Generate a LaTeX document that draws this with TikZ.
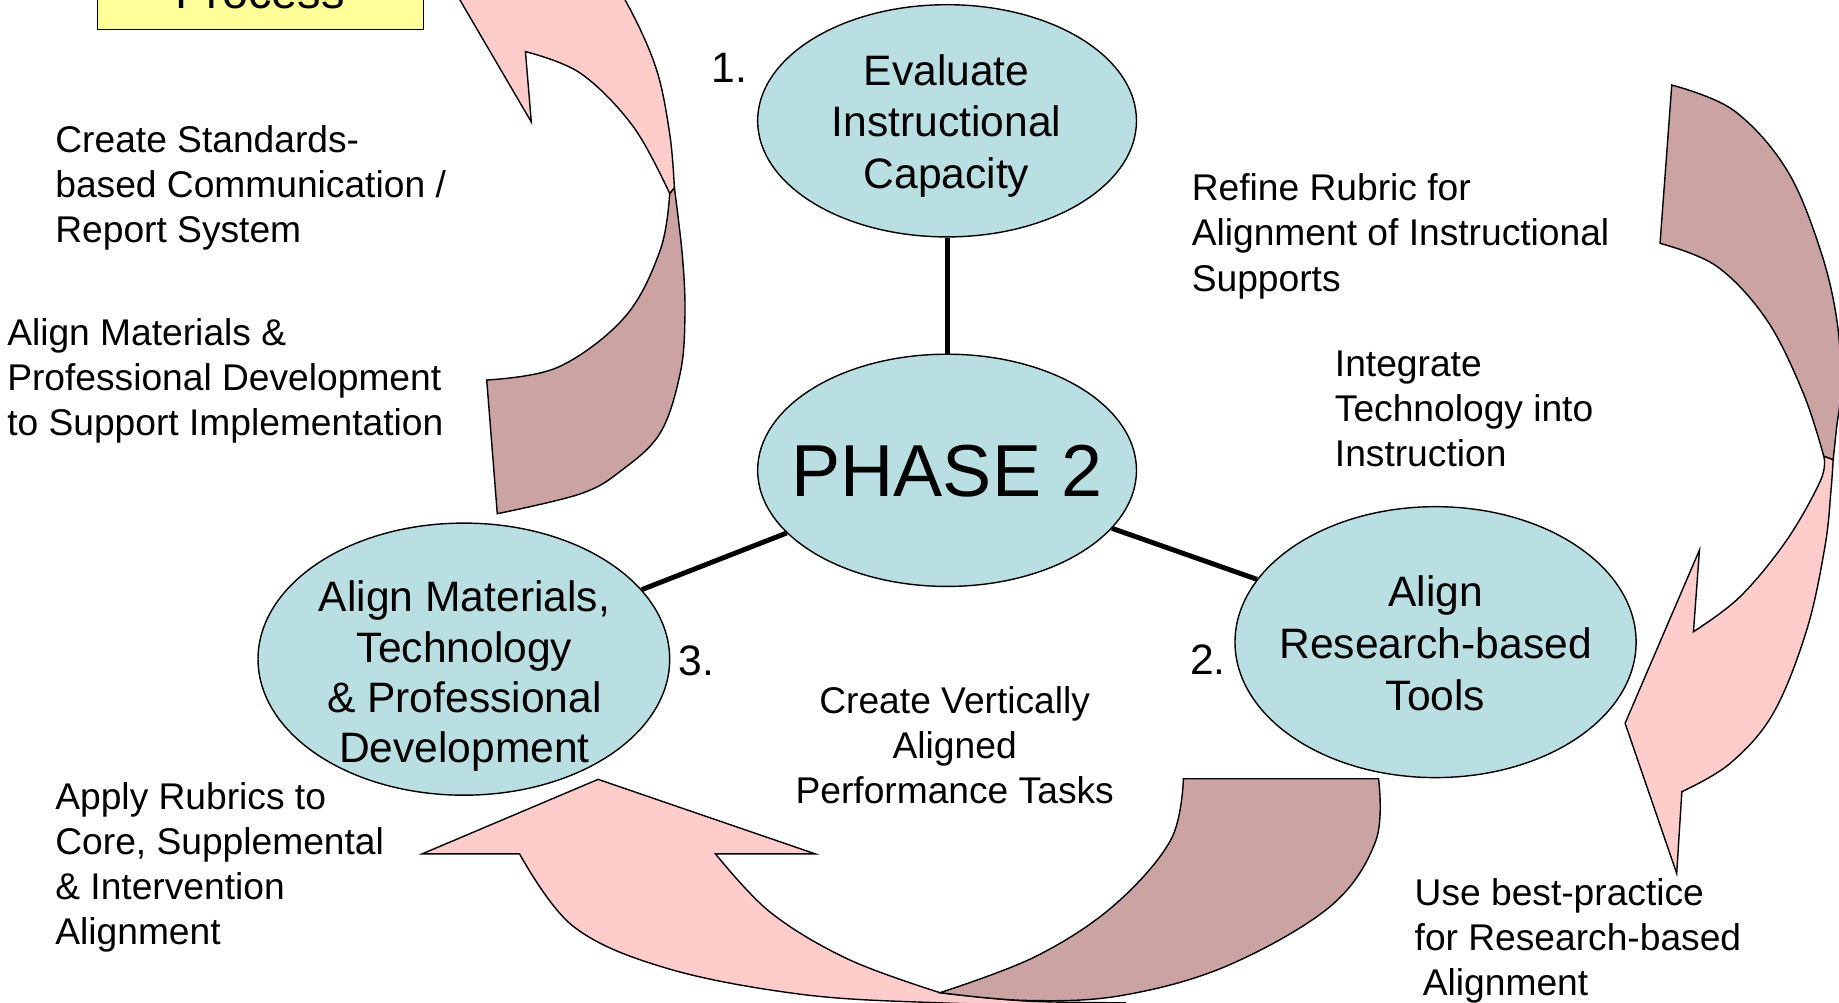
\documentclass[tikz,border=0pt]{standalone}
\usepackage{fontspec}
\setmainfont{Liberation Sans}
\usetikzlibrary{shapes.geometric}
\definecolor{ellfill}{RGB}{185,223,227}
\definecolor{pinkL}{RGB}{255,204,204}
\definecolor{pinkD}{RGB}{204,163,163}
\definecolor{yel}{RGB}{255,255,153}
\begin{document}
\begin{tikzpicture}[x=1pt,y=-1pt,
  ell/.style={ellipse, draw, fill=ellfill, line width=1.2pt, inner sep=0pt},
  conn/.style={line width=4.2pt},
  side/.style={font=\fontsize{31.7}{38.5}\selectfont, align=left, inner sep=0pt, anchor=north west},
  elltext/.style={font=\fontsize{36.3}{44}\selectfont, align=center, inner sep=0pt, anchor=north},
  num/.style={font=\fontsize{36.3}{44}\selectfont, inner sep=0pt, anchor=base},
  band/.style={draw, line width=1.2pt, line join=miter},
  back/.style={band, fill=pinkD},
  front/.style={band, fill=pinkL}]
\useasboundingbox (0,0) rectangle (1568,855);
\clip (0,0) rectangle (1568,855);
\fill[white] (0,0) rectangle (1568,855);

% yellow box (cut off at the top)
\node[draw, fill=yel, line width=1.2pt, minimum width=278pt, minimum height=110pt, anchor=south west, inner sep=0pt] (box) at (82.5,25.6) {};
\node[font=\fontsize{40}{48}\selectfont, anchor=base, inner sep=0pt] (proc) at (221.6,7) {Process};

% top-left curved arrow
\draw[back] (415,324) -- plot[smooth, tension=0.6] coordinates {(415,324) (476,313) (533,270) (563,213) (571,165)}
  -- (575,160) -- plot[smooth, tension=0.6] coordinates {(575,160) (582,220) (584,270) (580,318) (563,369) (530,401) (495,421) (424,438)} -- cycle;
\draw[front] (571,165) -- (575,160) -- plot[smooth, tension=0.6] coordinates {(575,160) (571,114) (559,57) (533,0) (505,-40)}
  -- (575,-95) -- (360,-55) -- (453,104) -- (448,44)
  -- plot[smooth, tension=0.6] coordinates {(448,44) (495,62.5) (540,108) (571,165)} -- cycle;

% right curved arrow
\draw[back] (1425.4,72.5) -- plot[smooth, tension=0.6] coordinates {(1425.4,72.5) (1478,94) (1523.6,145) (1553,216) (1567,279) (1569,336) (1566,364) (1563,392)}
  -- (1555,389) -- plot[smooth, tension=0.6] coordinates {(1555,389) (1537.6,335.4) (1506.4,272.8) (1463.7,227) (1415.4,207.5)} -- cycle;
\draw[front] (1555,389) -- (1563,392) -- plot[smooth, tension=0.6] coordinates {(1563,392) (1561,420) (1556,466) (1540.5,537) (1512,608) (1475,651) (1434,675)}
  -- (1429.6,744.7) -- (1385.6,616.7) -- (1449,469) -- (1443.9,538.6)
  -- plot[smooth, tension=0.6] coordinates {(1443.9,538.6) (1483.6,508.8) (1523.5,460.4) (1552.4,409.3) (1555,389)} -- cycle;

% bottom curved arrow
\draw[front] (443,728) -- plot[smooth, tension=0.6] coordinates {(443,728) (489,790) (570,826) (685,848) (800,855) (900,856.5) (960,855)}
  -- plot[smooth, tension=0.6] coordinates {(960,855) (875,853.5) (801.5,846.4)}
  -- plot[smooth, tension=0.6] coordinates {(801.5,846.4) (723.5,818) (657,778) (610,728)}
  -- (695,728) -- (510,664.5) -- (360,728) -- cycle;
\draw[back] (1009,664) -- (1175.4,664) -- plot[smooth, tension=0.6] coordinates {(1175.4,664) (1173,717) (1134,773) (1045,824) (955,849) (875,853) (801.5,846.4)}
  -- plot[smooth, tension=0.6] coordinates {(801.5,846.4) (882,816) (948.6,773) (998,716.6) (1009,664)} -- cycle;

% ellipses
\node[ell, minimum width=323pt, minimum height=198pt] (E1) at (807.5,103) {};
\node[ell, minimum width=323pt, minimum height=198pt] (PH) at (807.5,401) {};
\node[ell, minimum width=342pt, minimum height=231pt] (E2) at (1224,547.5) {};
\node[ell, minimum width=351pt, minimum height=232pt] (E3) at (395.5,562) {};

% connectors
\draw[conn] (E1) -- (PH);
\draw[conn] (PH) -- (E2);
\draw[conn] (PH) -- (E3);

% ellipse texts
\node[elltext] (E1t) at (807,46) {Evaluate\\Instructional\\Capacity};
\node[font=\fontsize{62.8}{70}\selectfont, anchor=base, inner sep=0pt] (PHt) at (807.5,423.5) {PHASE 2};
\node[elltext] (E2t) at (1224,491) {Align\\Research-based\\Tools};
\node[elltext, font=\fontsize{36.3}{43}\selectfont] (E3t) at (396,495) {Align Materials,\\Technology\\\& Professional\\Development};

% numbers
\node[num] (n1) at (622,70) {1.};
\node[num] (n2) at (1030,575) {2.};
\node[num] (n3) at (594,576) {3.};

% side texts
\node[side] (cs) at (47,107) {Create Standards-\\based Communication /\\Report System};
\node[side] (am) at (6,271) {Align Materials \&\\Professional Development\\to Support Implementation};
\node[side] (rr) at (1016,148) {Refine Rubric for\\Alignment of Instructional\\Supports};
\node[side] (it) at (1138,299) {Integrate\\Technology into\\Instruction};
\node[side, align=center, anchor=north] (cv) at (814,585) {Create Vertically\\Aligned\\Performance Tasks};
\node[side] (ar) at (47,667) {Apply Rubrics to\\Core, Supplemental\\\& Intervention\\Alignment};
\node[side] (ub) at (1206,749) {Use best-practice\\for Research-based\\\hspace*{7pt}Alignment};
\end{tikzpicture}
\end{document}
